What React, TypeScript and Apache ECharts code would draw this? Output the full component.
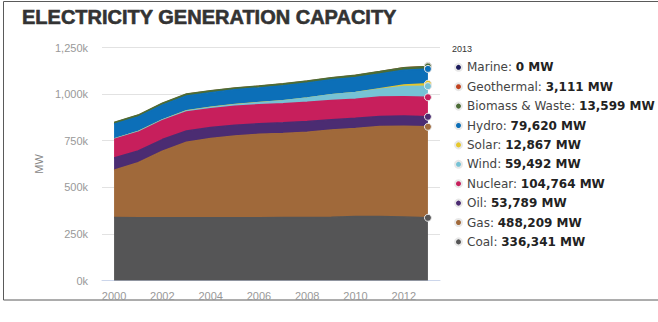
import React, { useEffect, useRef } from "react";
import * as echarts from "echarts";

// Installed generating capacity by source, thousands of MW (k)
const years = ["2000", "2001", "2002", "2003", "2004", "2005", "2006", "2007", "2008", "2009", "2010", "2011", "2012", "2013"];
const coal = [338, 337, 337, 336, 336, 337, 337, 338, 338, 339, 343, 344, 341, 336.341];
const gas = [253, 295, 357, 406, 426, 438, 447, 451, 458, 468, 472, 482, 487, 488.209];
const oil = [66, 63, 62, 60, 59, 58, 57, 57, 57, 56, 55, 54, 54, 53.789];
const nuclear = [100, 100, 101, 102, 101, 102, 102, 102, 103, 103, 103, 104, 104, 104.764];
const wind = [2.5, 4, 4.5, 6, 6.5, 8.5, 11, 16, 23, 30, 35, 42, 55, 59.492];
const solar = [0.4, 0.4, 0.4, 0.4, 0.4, 0.4, 0.4, 0.5, 0.5, 0.6, 1.1, 2.5, 8, 12.867];
const hydro = [78, 78, 79, 80, 79, 79, 79, 80, 80, 80, 80, 79.5, 79.5, 79.62];
const biomass = [10, 10, 10, 10, 10, 10, 10, 11, 11, 11, 12, 13, 13.5, 13.599];
const geothermal = [2.8, 2.8, 2.8, 2.8, 2.8, 2.8, 2.8, 2.9, 2.9, 3, 3, 3, 3.1, 3.111];
const marine = [0, 0, 0, 0, 0, 0, 0, 0, 0, 0, 0, 0, 0, 0];

const yTicks = { min: 0, max: 1250, interval: 250 };

// Stacking order, bottom to top
const sources = [
  { name: "Coal", data: coal, color: "#555556" },
  { name: "Gas", data: gas, color: "#a0693a" },
  { name: "Oil", data: oil, color: "#4b2c72" },
  { name: "Nuclear", data: nuclear, color: "#c71f5c" },
  { name: "Wind", data: wind, color: "#76c2d5" },
  { name: "Solar", data: solar, color: "#e6c72c" },
  { name: "Hydro", data: hydro, color: "#0c6fb8" },
  { name: "Biomass & Waste", data: biomass, color: "#4c6c36" },
  { name: "Geothermal", data: geothermal, color: "#c1421f" },
  { name: "Marine", data: marine, color: "#1b1b5c" },
];

const lastIndex = years.length - 1;
const fmtMW = (k: number) => Math.round(k * 1000).toLocaleString("en-US");

export default function App() {
  const ref = useRef<HTMLDivElement>(null);

  useEffect(() => {
    if (!ref.current) return;
    const chart = echarts.init(ref.current, undefined, { renderer: "svg" });
    const latest: Record<string, number> = {};
    sources.forEach((s) => (latest[s.name] = s.data[lastIndex]));

    chart.setOption({
      animation: false,
      title: {
        text: "ELECTRICITY GENERATION CAPACITY",
        left: 22,
        top: 7,
        padding: 0,
        textStyle: {
          fontFamily: "Liberation Sans",
          fontSize: 20,
          fontWeight: "bold",
          color: "#333333",
          textBorderColor: "#333333",
          textBorderWidth: 0.6,
        },
      },
      graphic: [
        {
          type: "rect",
          silent: true,
          shape: { x: 3.5, y: 1.5, width: 700, height: 298.5 },
          style: { fill: "none", stroke: "#5a5a5a", lineWidth: 1 },
        },
        {
          type: "text",
          left: 452,
          top: 44,
          style: {
            text: "2013",
            fontFamily: "Liberation Sans",
            fontSize: 9,
            fill: "#333333",
          },
        },
      ],
      legend: {
        orient: "vertical",
        left: 454,
        top: 60.3,
        padding: 0,
        itemWidth: 7,
        itemHeight: 7,
        itemGap: 5.4,
        icon: "circle",
        selectedMode: false,
        data: sources.map((s) => s.name).reverse(),
        formatter: (name: string) => `{n|${name}: }{v|${fmtMW(latest[name])} MW}`,
        textStyle: {
          lineHeight: 14,
          rich: {
            n: { fontFamily: "DejaVu Sans", fontSize: 12, color: "#444444", lineHeight: 14 },
            v: { fontFamily: "DejaVu Sans", fontSize: 12, fontWeight: "bold", color: "#222222", lineHeight: 14 },
          },
        },
      },
      grid: { left: 102, right: 218, top: 47.5, bottom: 41.5, containLabel: false },
      xAxis: {
        type: "category",
        data: years,
        boundaryGap: true,
        axisLine: { lineStyle: { color: "#ccd6eb", width: 1 } },
        axisTick: { alignWithLabel: true, interval: 0, length: 5, lineStyle: { color: "#ccd6eb" } },
        axisLabel: {
          interval: 1,
          margin: 10,
          fontFamily: "Liberation Sans",
          fontSize: 11,
          color: "#999999",
        },
        splitLine: { show: false },
      },
      yAxis: {
        type: "value",
        min: yTicks.min,
        max: yTicks.max,
        interval: yTicks.interval,
        name: "MW",
        nameLocation: "middle",
        nameGap: 57,
        nameTextStyle: { fontFamily: "Liberation Sans", fontSize: 11, color: "#888888" },
        axisLine: { show: false },
        axisTick: { show: false },
        axisLabel: {
          margin: 14,
          fontFamily: "Liberation Sans",
          fontSize: 11,
          color: "#999999",
          formatter: (v: number) => `${v.toLocaleString("en-US")}k`,
        },
        splitLine: { lineStyle: { color: "#e2e2e2", width: 1 } },
      },
      series: sources.map((s, i) => ({
        name: s.name,
        type: "line",
        stack: "capacity",
        data: s.data,
        z: 20 - i,
        symbol: "circle",
        showSymbol: true,
        showAllSymbol: true,
        symbolSize: (_v: number, p: { dataIndex: number }) => (p.dataIndex === lastIndex ? 7 : 0),
        itemStyle: { color: s.color, borderColor: "#e8e8e8", borderWidth: 1 },
        lineStyle: { color: s.color, width: i >= 8 ? 0 : 1.5 },
        areaStyle: { color: s.color, opacity: 1 },
        emphasis: { disabled: true },
        silent: true,
      })),
    });

    return () => chart.dispose();
  }, []);

  return (
    <div
      ref={ref}
      style={{ position: "fixed", left: 0, top: 0, width: 658, height: 322, background: "#ffffff" }}
    />
  );
}
